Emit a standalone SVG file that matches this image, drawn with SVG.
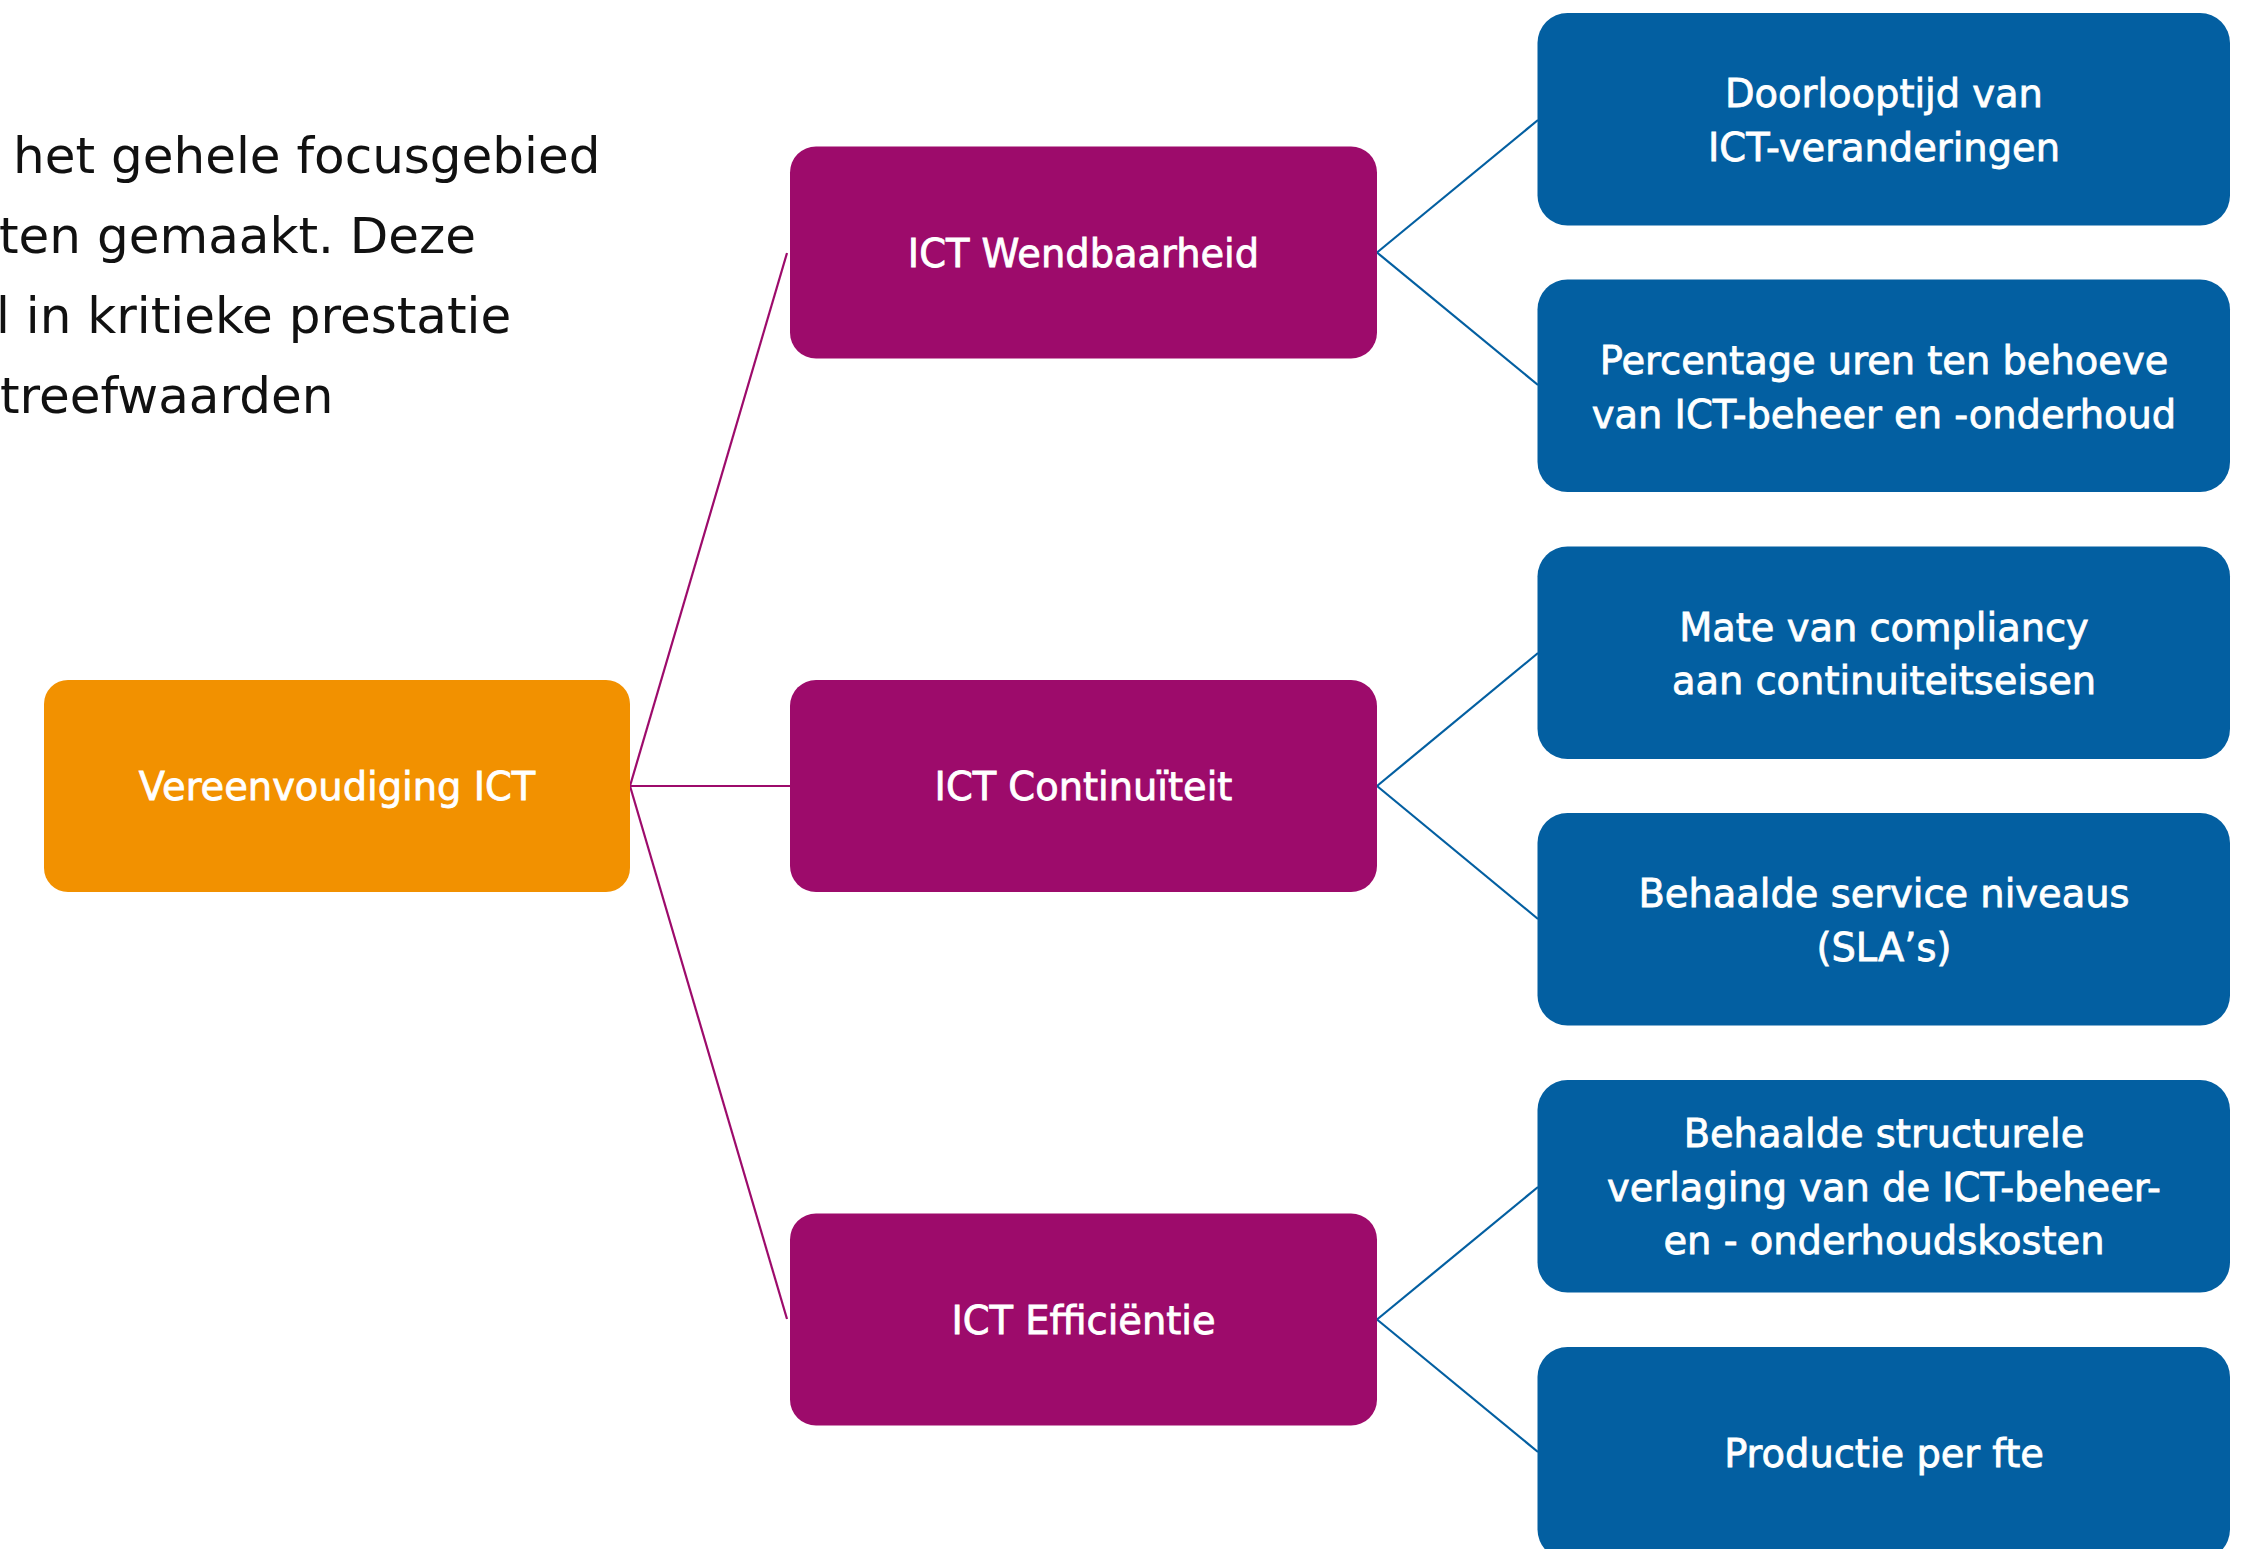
<svg xmlns="http://www.w3.org/2000/svg" width="2249" height="1549" viewBox="0 0 2249 1549">
  <style>
    .body { font-family: "DejaVu Sans", "Liberation Sans", sans-serif; font-size: 50px; fill: #111111; }
    .lbl { font-family: "DejaVu Sans", "Liberation Sans", sans-serif; font-size: 38.4px; fill: #ffffff; stroke: #ffffff; stroke-width: 0.8; text-anchor: middle; }
    .root { fill: #F29100; }
    .mid { fill: #9D0B6B; }
    .leaf { fill: #035FA1; }
    .cp { stroke: #9D0B6B; stroke-width: 2.2; fill: none; }
    .cb { stroke: #035FA1; stroke-width: 2.2; fill: none; }
  </style>
  <rect width="2249" height="1549" fill="#ffffff"/>

  <g id="intro-text">
    <text class="body" x="13" y="173">het gehele focusgebied</text>
    <text class="body" x="-1" y="253">ten gemaakt. Deze</text>
    <text class="body" x="-4" y="333">l in kritieke prestatie</text>
    <text class="body" x="0" y="413">treefwaarden</text>
  </g>

  <g id="connectors">
    <line class="cp" x1="630" y1="786" x2="787" y2="253"/>
    <line class="cp" x1="630" y1="786" x2="790" y2="786"/>
    <line class="cp" x1="630" y1="786" x2="787" y2="1319"/>
    <line class="cb" x1="1377" y1="252.5" x2="1538" y2="120"/>
    <line class="cb" x1="1377" y1="252.5" x2="1538" y2="385"/>
    <line class="cb" x1="1377" y1="786" x2="1538" y2="653"/>
    <line class="cb" x1="1377" y1="786" x2="1538" y2="919"/>
    <line class="cb" x1="1377" y1="1319.5" x2="1538" y2="1187"/>
    <line class="cb" x1="1377" y1="1319.5" x2="1538" y2="1452"/>
  </g>

  <g id="node-vereenvoudiging">
    <rect class="root" x="44" y="680" width="586" height="212" rx="24"/>
    <text class="lbl" x="337" y="800">Vereenvoudiging ICT</text>
  </g>

  <g id="node-wendbaarheid">
    <rect class="mid" x="790" y="146.5" width="587" height="212" rx="26"/>
    <text class="lbl" x="1083.5" y="266.5">ICT Wendbaarheid</text>
  </g>
  <g id="node-continuiteit">
    <rect class="mid" x="790" y="680" width="587" height="212" rx="26"/>
    <text class="lbl" x="1083.5" y="800">ICT Continuïteit</text>
  </g>
  <g id="node-efficientie">
    <rect class="mid" x="790" y="1213.5" width="587" height="212" rx="26"/>
    <text class="lbl" x="1083.5" y="1333.5">ICT Efficiëntie</text>
  </g>

  <g id="node-doorlooptijd">
    <rect class="leaf" x="1537.5" y="13" width="692.5" height="212.5" rx="30"/>
    <text class="lbl" x="1884" y="107">Doorlooptijd van</text>
    <text class="lbl" x="1884" y="161">ICT-veranderingen</text>
  </g>
  <g id="node-percentage">
    <rect class="leaf" x="1537.5" y="279.5" width="692.5" height="212.5" rx="30"/>
    <text class="lbl" x="1884" y="374">Percentage uren ten behoeve</text>
    <text class="lbl" x="1884" y="428">van ICT-beheer en -onderhoud</text>
  </g>
  <g id="node-compliancy">
    <rect class="leaf" x="1537.5" y="546.5" width="692.5" height="212.5" rx="30"/>
    <text class="lbl" x="1884" y="641">Mate van compliancy</text>
    <text class="lbl" x="1884" y="694">aan continuiteitseisen</text>
  </g>
  <g id="node-service">
    <rect class="leaf" x="1537.5" y="813" width="692.5" height="212.5" rx="30"/>
    <text class="lbl" x="1884" y="907">Behaalde service niveaus</text>
    <text class="lbl" x="1884" y="961">(SLA’s)</text>
  </g>
  <g id="node-verlaging">
    <rect class="leaf" x="1537.5" y="1080" width="692.5" height="212.5" rx="30"/>
    <text class="lbl" x="1884" y="1147">Behaalde structurele</text>
    <text class="lbl" x="1884" y="1201">verlaging van de ICT-beheer-</text>
    <text class="lbl" x="1884" y="1254">en - onderhoudskosten</text>
  </g>
  <g id="node-productie">
    <rect class="leaf" x="1537.5" y="1347" width="692.5" height="212.5" rx="30"/>
    <text class="lbl" x="1884" y="1467">Productie per fte</text>
  </g>
</svg>
